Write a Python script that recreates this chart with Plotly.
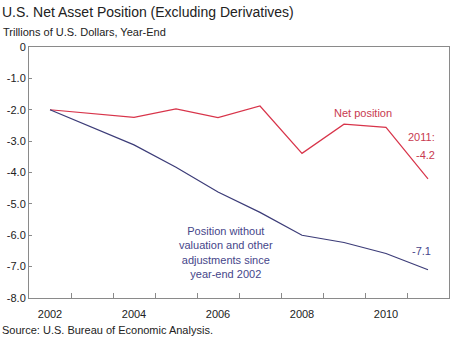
import plotly.graph_objects as go

years = [2002, 2003, 2004, 2005, 2006, 2007, 2008, 2009, 2010, 2011]
net_position = [-2.0, -2.12, -2.24, -1.97, -2.25, -1.88, -3.39, -2.46, -2.56, -4.2]
without_adjustments = [-2.0, -2.56, -3.12, -3.83, -4.62, -5.27, -6.0, -6.23, -6.58, -7.1]

y_ticks = [0, -1, -2, -3, -4, -5, -6, -7, -8]
y_tick_text = ["0", "-1.0", "-2.0", "-3.0", "-4.0", "-5.0", "-6.0", "-7.0", "-8.0"]
x_label_years = [2002, 2004, 2006, 2008, 2010]

RED = "#d8344a"
BLUE = "#3c3c78"
RED_TEXT = "#c83a50"
BLUE_TEXT = "#46468a"
FRAME = "#8a8a8a"
FONT = "Liberation Sans, Arial, sans-serif"

fig = go.Figure()
fig.add_trace(go.Scatter(x=years, y=net_position, mode="lines",
                         line=dict(color=RED, width=1.2), showlegend=False))
fig.add_trace(go.Scatter(x=years, y=without_adjustments, mode="lines",
                         line=dict(color=BLUE, width=1.2), showlegend=False))

x_range = [years[0] - 0.5, years[-1] + 0.5]
boundaries = [y + 0.5 for y in years[:-1]]

fig.update_layout(
    width=450, height=339,
    margin=dict(l=29, r=1, t=47, b=41),
    paper_bgcolor="white", plot_bgcolor="white",
    font=dict(family=FONT, size=11, color="#222"),
    xaxis=dict(range=x_range, tickvals=boundaries, ticktext=[""] * len(boundaries),
               ticks="inside", ticklen=5, tickcolor=FRAME, tickwidth=1,
               showline=True, linecolor=FRAME, linewidth=1, mirror=True,
               showgrid=False, zeroline=False),
    xaxis2=dict(range=x_range, overlaying="x", side="bottom", anchor="y",
                tickvals=x_label_years, ticktext=[str(v) for v in x_label_years],
                ticks="", showline=False, showgrid=False, zeroline=False,
                ticklabelstandoff=8,
                tickfont=dict(size=11, color="#222")),
    yaxis=dict(range=[-8, 0], tickvals=y_ticks, ticktext=y_tick_text,
               ticks="inside", ticklen=3, tickcolor=FRAME,
               showline=True, linecolor=FRAME, linewidth=1, mirror=True,
               showgrid=False, zeroline=False, tickfont=dict(size=11, color="#222")),
)
# invisible trace so the label axis is drawn
fig.add_trace(go.Scatter(x=[years[0]], y=[None], xaxis="x2", showlegend=False, hoverinfo="skip"))

annotations = [
    dict(text="U.S. Net Asset Position (Excluding Derivatives)", x=0, y=12, size=14, color="#222"),
    dict(text="Trillions of U.S. Dollars, Year-End", x=1, y=32, size=11, color="#222"),
    dict(text="Source: U.S. Bureau of Economic Analysis.", x=0, y=330, size=11, color="#222"),
]
for a in annotations:
    fig.add_annotation(text=a["text"], xref="paper", yref="paper",
                       x=(a["x"] - 29) / 420, y=1 - (a["y"] - 47) / 251,
                       xanchor="left", yanchor="middle", showarrow=False,
                       font=dict(size=a["size"], color=a["color"], family=FONT))

fig.add_annotation(text="Net position", x=2009.45, y=-2.1, showarrow=False,
                   font=dict(size=11, color=RED_TEXT), xanchor="center", yanchor="middle")
fig.add_annotation(text="2011:", x=2010.85, y=-2.88, showarrow=False,
                   font=dict(size=11, color=RED_TEXT), xanchor="center", yanchor="middle")
fig.add_annotation(text=f"{net_position[-1]:.1f}", x=years[-1] - 0.05, y=-3.45, showarrow=False,
                   font=dict(size=11, color=RED_TEXT), xanchor="center", yanchor="middle")
fig.add_annotation(text=f"{without_adjustments[-1]:.1f}", x=years[-1] - 0.15, y=-6.5, showarrow=False,
                   font=dict(size=11, color=BLUE_TEXT), xanchor="center", yanchor="middle")
fig.add_annotation(text="Position without<br>valuation and other<br>adjustments since<br>year-end 2002",
                   x=2006.2, y=-6.55, showarrow=False, align="center",
                   font=dict(size=11, color=BLUE_TEXT), xanchor="center", yanchor="middle")

fig.write_html("out.html")
